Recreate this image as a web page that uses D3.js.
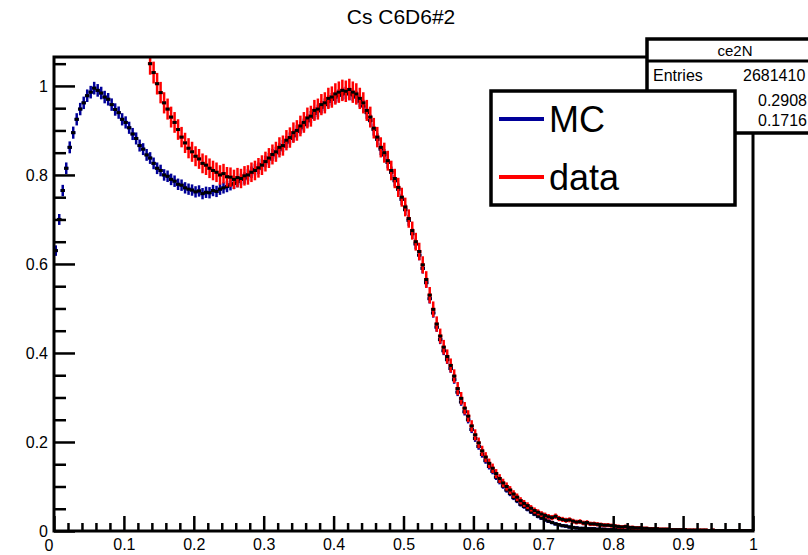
<!DOCTYPE html>
<html>
<head>
<meta charset="utf-8">
<script src="https://cdn.jsdelivr.net/npm/d3@7"></script>
<style>
  body { margin: 0; background: #fff; }
  svg { display: block; font-family: "Liberation Sans", Arial, Helvetica, sans-serif; }
</style>
</head>
<body>
<div id="chart"></div>
<script>
// histogram bins: 200 bins of 0.005 on [0,1]
const binWidth = 0.005;

// MC (blue), normalised to peak = 1
const mcValues = [
  0.63, 0.70, 0.765, 0.815, 0.862, 0.895, 0.925, 0.948, 0.962, 0.978,
  0.986, 0.995, 0.99, 0.984, 0.975, 0.97, 0.958, 0.947, 0.94, 0.925,
  0.918, 0.906, 0.892, 0.882, 0.866, 0.858, 0.845, 0.838, 0.826, 0.815,
  0.81, 0.80, 0.797, 0.79, 0.786, 0.779, 0.777, 0.771, 0.768, 0.766,
  0.762, 0.764, 0.758, 0.761, 0.76, 0.765, 0.763, 0.768, 0.771, 0.774,
  0.778, 0.781, 0.785, 0.79, 0.793, 0.80, 0.806, 0.812, 0.815, 0.823,
  0.83, 0.836, 0.845, 0.85, 0.858, 0.865, 0.874, 0.882, 0.888, 0.898,
  0.906, 0.913, 0.922, 0.93, 0.938, 0.944, 0.952, 0.958, 0.965, 0.97,
  0.975, 0.979, 0.982, 0.984, 0.982, 0.98, 0.975, 0.966, 0.955, 0.94,
  0.922, 0.902, 0.88, 0.858, 0.845, 0.828, 0.806, 0.787, 0.768, 0.745,
  0.722, 0.698, 0.668, 0.645, 0.62, 0.59, 0.558, 0.522, 0.49, 0.458,
  0.43, 0.405, 0.385, 0.365, 0.34, 0.312, 0.29, 0.268, 0.25, 0.228,
  0.208, 0.19, 0.172, 0.158, 0.145, 0.134, 0.121, 0.111, 0.101, 0.092,
  0.084, 0.075, 0.068, 0.06, 0.055, 0.049, 0.043, 0.038, 0.033, 0.029,
  0.025, 0.022, 0.019, 0.016, 0.014, 0.012, 0.011, 0.009, 0.008, 0.007,
  0.006, 0.006, 0.005, 0.005, 0.005, 0.004, 0.004, 0.004, 0.003, 0.003,
  0.003, 0.003, 0.003, 0.002, 0.002, 0.002, 0.002, 0.002, 0.002, 0.002,
  0.001, 0.001, 0.001, 0.001, 0.001, 0.001, 0.001, 0.001, 0.001, 0.001,
  0.001, 0.001, 0.001, 0.001, 0.001, 0.001, 0.001, 0.001, 0.001, 0.001,
  0.001, 0.001, 0.001, 0.001, 0.001, 0.001, 0.001, 0.001, 0.001, 0.001
];

// data (red), first bin shown is bin 27 (below that it is off the top of the frame)
const dataStartBin = 27;
const dataValues = [
  1.05, 1.03, 1.005,
  0.985, 0.962, 0.948, 0.93, 0.918, 0.902, 0.885, 0.872, 0.86, 0.852,
  0.842, 0.836, 0.826, 0.822, 0.815, 0.81, 0.806, 0.80, 0.803, 0.796,
  0.795, 0.79, 0.794, 0.792, 0.798, 0.80, 0.806, 0.81, 0.816, 0.822,
  0.83, 0.838, 0.846, 0.852, 0.862, 0.866, 0.878, 0.884, 0.895, 0.90,
  0.91, 0.918, 0.928, 0.932, 0.945, 0.948, 0.958, 0.962, 0.972, 0.975,
  0.982, 0.986, 0.99, 0.988, 0.992, 0.986, 0.982, 0.972, 0.962, 0.945,
  0.93, 0.905, 0.885, 0.862, 0.85, 0.832, 0.81, 0.792, 0.772, 0.75,
  0.728, 0.702, 0.675, 0.65, 0.628, 0.598, 0.565, 0.53, 0.498, 0.465,
  0.438, 0.413, 0.392, 0.372, 0.348, 0.32, 0.298, 0.276, 0.258, 0.236,
  0.216, 0.198, 0.18, 0.166, 0.152, 0.141, 0.129, 0.118, 0.108, 0.10,
  0.092, 0.083, 0.076, 0.068, 0.062, 0.057, 0.051, 0.046, 0.042, 0.038,
  0.035, 0.032, 0.03, 0.033, 0.028, 0.026, 0.024, 0.025, 0.022, 0.02,
  0.021, 0.018, 0.019, 0.016, 0.016, 0.015, 0.014, 0.013, 0.013, 0.012,
  0.011, 0.01, 0.009, 0.01, 0.008, 0.008, 0.007, 0.007, 0.006, 0.006,
  0.005, 0.005, 0.005, 0.004, 0.004, 0.004, 0.003, 0.003, 0.003, 0.003,
  0.003, 0.002, 0.002, 0.002, 0.002, 0.002, 0.002, 0.001, 0.002, 0.001,
  0.001, 0.001, 0.001, 0.001, 0.001, 0.001, 0.001, 0.001, 0.001, 0.001
];

// relative size of the statistical error bars (scaled with sqrt of the content)
const mcErrScale = 0.012;
const dataErrScale = 0.022;

const xMajorTicks = [0, 0.1, 0.2, 0.3, 0.4, 0.5, 0.6, 0.7, 0.8, 0.9, 1];
const yMajorTicks = [0, 0.2, 0.4, 0.6, 0.8, 1];

const title = "Cs C6D6#2";
const statsName = "ce2N";
const statsRows = [["Entries", "2681410"], ["Mean", "0.2908"], ["RMS", "0.1716"]];
const legendItems = [{ label: "MC", color: "#000099" }, { label: "data", color: "#ff0000" }];

// ---- layout
const width = 808, height = 555;
const frame = { left: 54, right: 753, top: 57, bottom: 531 };

const svg = d3.select("#chart").append("svg")
  .attr("width", width)
  .attr("height", height);

const x = d3.scaleLinear().domain([0, 1]).range([frame.left, frame.right]);
const y = d3.scaleLinear().domain([0, 1.065]).range([frame.bottom, frame.top]);

svg.append("clipPath").attr("id", "clip")
  .append("rect")
  .attr("x", frame.left).attr("y", frame.top)
  .attr("width", frame.right - frame.left)
  .attr("height", frame.bottom - frame.top);

// title
svg.append("text")
  .attr("x", 401).attr("y", 24)
  .attr("text-anchor", "middle")
  .style("font-size", "21px")
  .text(title);

// turn value arrays into bins
const mcBins = mcValues.map((v, i) => ({ lo: i * binWidth, v: v, e: mcErrScale * Math.sqrt(v) }));
const dataBins = dataValues.map((v, i) => ({ lo: (i + dataStartBin) * binWidth, v: v, e: dataErrScale * Math.sqrt(v) }));

const plot = svg.append("g").attr("clip-path", "url(#clip)");

function drawHist(bins, color) {
  const g = plot.append("g");
  // horizontal bars (bin width)
  g.selectAll(".hbar").data(bins).enter().append("line")
    .attr("x1", d => x(d.lo) - 0.5).attr("x2", d => x(d.lo + binWidth) + 0.5)
    .attr("y1", d => y(d.v)).attr("y2", d => y(d.v))
    .attr("stroke", color).attr("stroke-width", 3);
  // vertical error bars
  g.selectAll(".vbar").data(bins).enter().append("line")
    .attr("x1", d => x(d.lo + binWidth / 2)).attr("x2", d => x(d.lo + binWidth / 2))
    .attr("y1", d => y(d.v - d.e) + 1).attr("y2", d => y(d.v + d.e) - 1)
    .attr("stroke", color).attr("stroke-width", 2.5);
  // black markers
  g.selectAll(".mk").data(bins).enter().append("rect")
    .attr("x", d => x(d.lo + binWidth / 2) - 2)
    .attr("y", d => y(d.v) - 1.5)
    .attr("width", 4).attr("height", 3)
    .attr("fill", "#000");
}

drawHist(mcBins, legendItems[0].color);
drawHist(dataBins, legendItems[1].color);

// ---- axes (ticks point into the frame)
const xMinor = d3.range(0, 1.0001, 0.02).filter(t => Math.abs(t * 10 - Math.round(t * 10)) > 1e-6);
const yMinor = d3.range(0, 1.06, 0.05).filter(t => Math.abs(t * 5 - Math.round(t * 5)) > 1e-6);

const axisStyle = g => {
  g.select(".domain").remove();
  g.selectAll("line").attr("stroke", "#000").attr("stroke-width", 2.5);
  g.selectAll("text").style("font-size", "16px").attr("fill", "#000");
};

svg.append("g")
  .attr("transform", `translate(0,${frame.bottom})`)
  .call(d3.axisBottom(x).tickValues(xMinor).tickSize(-8).tickFormat(""))
  .call(axisStyle);
svg.append("g")
  .attr("transform", `translate(0,${frame.bottom})`)
  .call(d3.axisBottom(x).tickValues(xMajorTicks).tickSize(-15).tickPadding(8)
    .tickFormat(d => d === 0 ? "" : d3.format("")(d)))
  .call(axisStyle)
  .call(g => g.selectAll("text").attr("dy", "0.71em").attr("y", 8));

// the "0" of the x axis sits a bit to the left in the original
svg.append("text")
  .attr("x", 49).attr("y", 551)
  .attr("text-anchor", "middle")
  .style("font-size", "16px")
  .text("0");

svg.append("g")
  .attr("transform", `translate(${frame.left},0)`)
  .call(d3.axisLeft(y).tickValues(yMinor).tickSize(-12).tickFormat(""))
  .call(axisStyle);
svg.append("g")
  .attr("transform", `translate(${frame.left},0)`)
  .call(d3.axisLeft(y).tickValues(yMajorTicks).tickSize(-21).tickPadding(6)
    .tickFormat(d3.format("")))
  .call(axisStyle);

// frame
svg.append("rect")
  .attr("x", frame.left).attr("y", frame.top)
  .attr("width", frame.right - frame.left)
  .attr("height", frame.bottom - frame.top)
  .attr("fill", "none")
  .attr("stroke", "#000")
  .attr("stroke-width", 3);

// ---- stats box (runs off the right edge)
const stats = svg.append("g");
stats.append("rect")
  .attr("x", 647).attr("y", 39)
  .attr("width", 200).attr("height", 94)
  .attr("fill", "#fff").attr("stroke", "#000").attr("stroke-width", 3.5);
stats.append("line")
  .attr("x1", 647).attr("x2", 847).attr("y1", 61).attr("y2", 61)
  .attr("stroke", "#000").attr("stroke-width", 3);
stats.append("text")
  .attr("x", 735).attr("y", 56)
  .attr("text-anchor", "middle")
  .style("font-size", "15px")
  .text(statsName);
statsRows.forEach((r, i) => {
  const by = [81, 106, 126][i];
  stats.append("text")
    .attr("x", 653).attr("y", by)
    .style("font-size", "16px")
    .text(r[0]);
  stats.append("text")
    .attr("x", i === 0 ? 743 : 758).attr("y", by)
    .style("font-size", "16px")
    .text(r[1]);
});

// ---- legend (drawn over the lower part of the stats box)
const legend = svg.append("g");
legend.append("rect")
  .attr("x", 491).attr("y", 91)
  .attr("width", 244).attr("height", 114)
  .attr("fill", "#fff").attr("stroke", "#000").attr("stroke-width", 3.5);
legendItems.forEach((d, i) => {
  const cy = 119 + i * 58;
  legend.append("line")
    .attr("x1", 499).attr("x2", 544)
    .attr("y1", cy).attr("y2", cy)
    .attr("stroke", d.color).attr("stroke-width", 4);
  legend.append("text")
    .attr("x", 549).attr("y", cy + 13)
    .style("font-size", "36px")
    .text(d.label);
});
</script>
</body>
</html>
